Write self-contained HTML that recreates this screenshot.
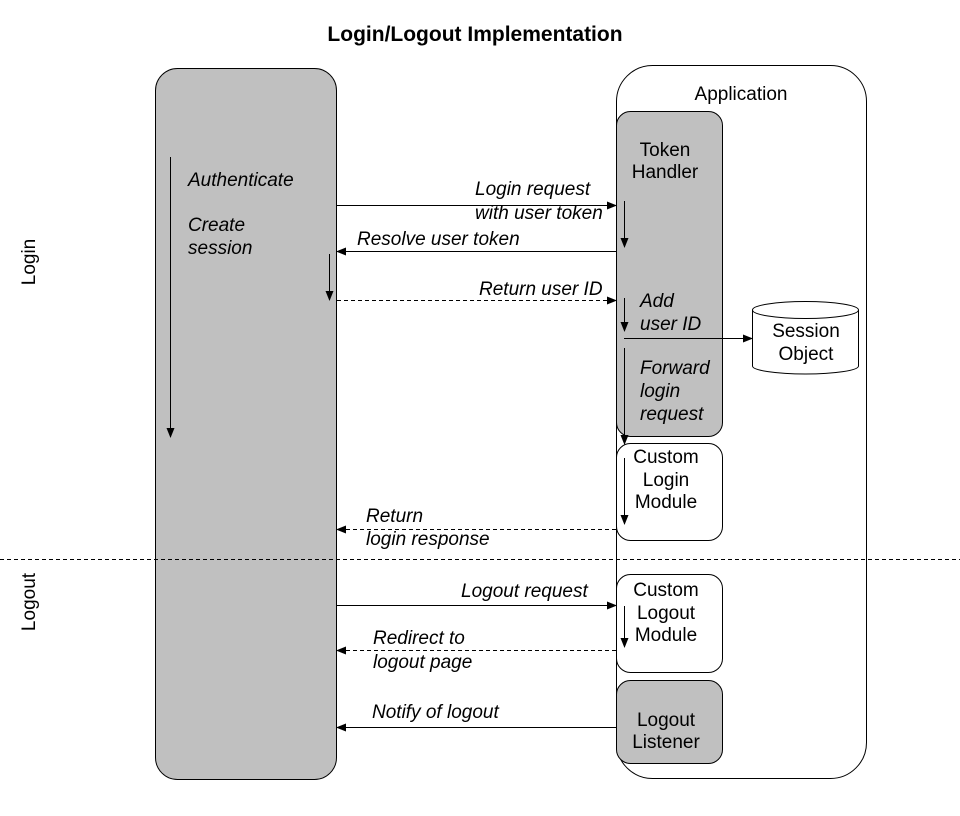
<!DOCTYPE html>
<html><head><meta charset="utf-8"><style>
html,body{margin:0;padding:0;background:#fff;width:960px;height:816px;overflow:hidden}
svg{display:block}
text{font-family:"Liberation Sans",Arial,sans-serif;font-size:19px;fill:#000}
.i{font-style:italic}
</style></head><body>
<svg width="960" height="816" viewBox="0 0 960 816">
<defs>
<marker id="a" markerWidth="10" markerHeight="8" refX="9" refY="4" orient="auto" markerUnits="userSpaceOnUse">
<path d="M0,0 L10,4 L0,8 z" fill="#000"/></marker>
</defs>
<text x="475" y="41" text-anchor="middle" style="font-weight:bold;font-size:21px">Login/Logout Implementation</text>
<rect x="155.5" y="68.5" width="181" height="711" rx="22" fill="#c0c0c0" stroke="#000"/>
<rect x="616.5" y="65.5" width="250" height="713" rx="36" fill="#fff" stroke="#000"/>
<text x="741" y="100" text-anchor="middle">Application</text>
<rect x="616.5" y="111.5" width="106" height="325" rx="14" fill="#c0c0c0" stroke="#000"/>
<text x="665" y="156" text-anchor="middle">Token</text>
<text x="665" y="178" text-anchor="middle">Handler</text>
<rect x="616.5" y="443.5" width="106" height="97" rx="14" fill="#fff" stroke="#000"/>
<text x="666" y="463" text-anchor="middle">Custom</text>
<text x="666" y="486" text-anchor="middle">Login</text>
<text x="666" y="508" text-anchor="middle">Module</text>
<rect x="616.5" y="574.5" width="106" height="98" rx="14" fill="#fff" stroke="#000"/>
<text x="666" y="596" text-anchor="middle">Custom</text>
<text x="666" y="619" text-anchor="middle">Logout</text>
<text x="666" y="641" text-anchor="middle">Module</text>
<rect x="616.5" y="680.5" width="106" height="83" rx="14" fill="#c0c0c0" stroke="#000"/>
<text x="666" y="726" text-anchor="middle">Logout</text>
<text x="666" y="748" text-anchor="middle">Listener</text>
<path d="M752.5,310 L752.5,366 A53,8 0 0 0 858.5,366 L858.5,310" fill="#fff" stroke="#000"/>
<ellipse cx="805.5" cy="310" rx="53" ry="8.5" fill="#fff" stroke="#000"/>
<text x="806" y="337" text-anchor="middle">Session</text>
<text x="806" y="360" text-anchor="middle">Object</text>
<line x1="0" y1="559.5" x2="960" y2="559.5" stroke="#000" stroke-dasharray="4,3"/>
<text transform="translate(35,262) rotate(-90)" text-anchor="middle">Login</text>
<text transform="translate(35,602) rotate(-90)" text-anchor="middle">Logout</text>
<g stroke="#000" fill="none">
<line x1="337" y1="205.5" x2="616" y2="205.5" marker-end="url(#a)"/>
<line x1="616" y1="251.5" x2="337" y2="251.5" marker-end="url(#a)"/>
<line x1="337" y1="300.5" x2="616" y2="300.5" stroke-dasharray="4,3" marker-end="url(#a)"/>
<line x1="624" y1="338.5" x2="752" y2="338.5" marker-end="url(#a)"/>
<line x1="616" y1="529.5" x2="337" y2="529.5" stroke-dasharray="4,3" marker-end="url(#a)"/>
<line x1="337" y1="605.5" x2="616" y2="605.5" marker-end="url(#a)"/>
<line x1="616" y1="650.5" x2="337" y2="650.5" stroke-dasharray="4,3" marker-end="url(#a)"/>
<line x1="616" y1="727.5" x2="337" y2="727.5" marker-end="url(#a)"/>
<line x1="170.5" y1="157" x2="170.5" y2="437" marker-end="url(#a)"/>
<line x1="329.5" y1="254" x2="329.5" y2="300" marker-end="url(#a)"/>
<line x1="624.5" y1="201" x2="624.5" y2="247" marker-end="url(#a)"/>
<line x1="624.5" y1="298" x2="624.5" y2="331" marker-end="url(#a)"/>
<line x1="624.5" y1="348" x2="624.5" y2="444" marker-end="url(#a)"/>
<line x1="624.5" y1="458" x2="624.5" y2="524" marker-end="url(#a)"/>
<line x1="624.5" y1="606" x2="624.5" y2="647" marker-end="url(#a)"/>
</g>
<g>
<text x="188" y="186" class="i">Authenticate</text>
<text x="188" y="231" class="i">Create</text>
<text x="188" y="254" class="i">session</text>
<text x="475" y="195" class="i">Login request</text>
<text x="475" y="219" class="i">with user token</text>
<text x="357" y="245" class="i">Resolve user token</text>
<text x="479" y="295" class="i">Return user ID</text>
<text x="640" y="307" class="i">Add</text>
<text x="640" y="330" class="i">user ID</text>
<text x="640" y="374" class="i">Forward</text>
<text x="640" y="397" class="i">login</text>
<text x="640" y="420" class="i">request</text>
<text x="366" y="522" class="i">Return</text>
<text x="366" y="545" class="i">login response</text>
<text x="461" y="597" class="i">Logout request</text>
<text x="373" y="644" class="i">Redirect to</text>
<text x="373" y="668" class="i">logout page</text>
<text x="372" y="718" class="i">Notify of logout</text>
</g>
</svg>
</body></html>
